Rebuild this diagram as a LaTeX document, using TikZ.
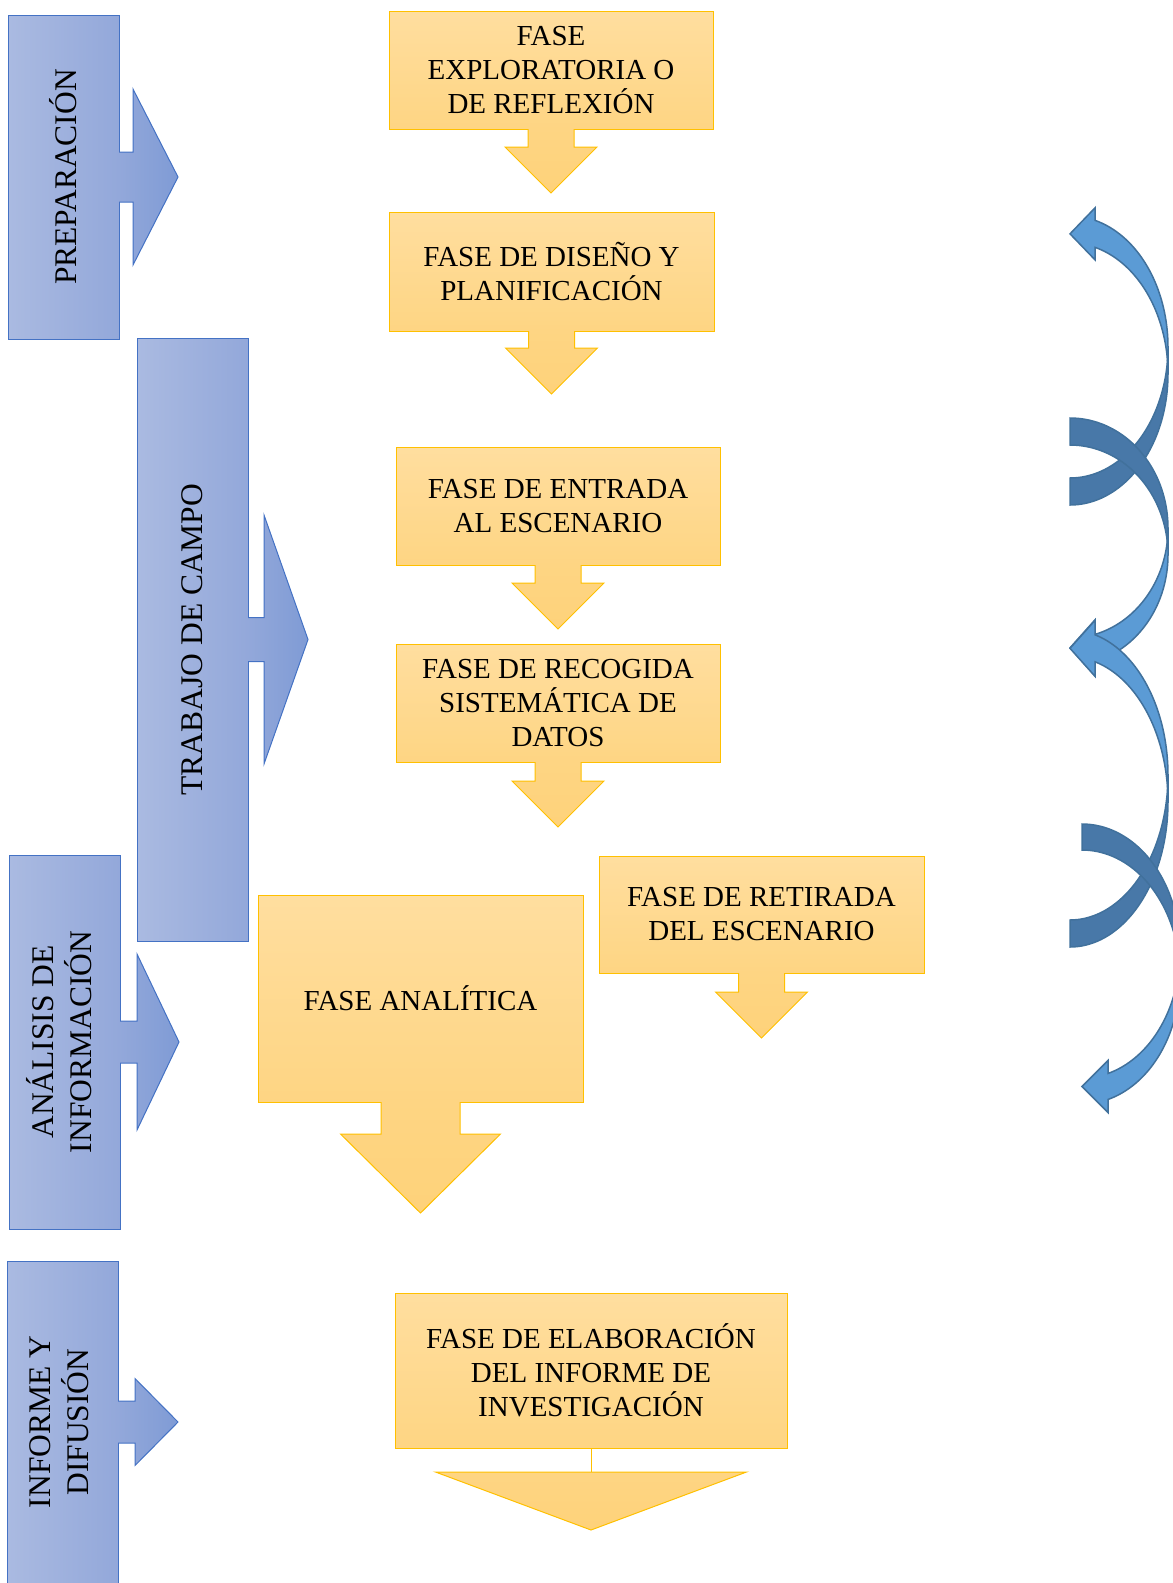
\documentclass[tikz,border=0pt]{standalone}
\usepackage{fontspec}
\setmainfont{Liberation Serif}
\usepackage{graphicx}
\definecolor{orline}{HTML}{FFC000}
\definecolor{ortop}{HTML}{FFDE9F}
\definecolor{orbot}{HTML}{FED583}
\definecolor{orarrow}{HTML}{FED27A}
\definecolor{blline}{HTML}{4472C4}
\definecolor{blleft}{HTML}{AABAE1}
\definecolor{blmid}{HTML}{93A8DA}
\definecolor{bltip}{HTML}{7F9BD5}
\definecolor{cvlight}{HTML}{5B9BD5}
\definecolor{cvdark}{HTML}{4878A8}
\definecolor{cvline}{HTML}{41719C}
\tikzset{
  fase/.style={draw=orline, line width=1pt, top color=ortop, bottom color=orbot,
    minimum width=324pt, minimum height=118pt, align=center, inner sep=0pt,
    outer sep=0pt, font=\fontsize{29}{34}\selectfont},
  etapa/.style={draw=blline, line width=1pt, left color=blleft, right color=blmid,
    minimum width=111pt, inner sep=0pt, outer sep=0pt,
    font=\fontsize{31.5}{36}\selectfont}
}
\begin{document}
\begin{tikzpicture}[x=1pt,y=-1pt]
            \useasboundingbox (0,0) rectangle (1173,1583);
            \newcommand{\flecha}[5]{
              \shade[top color=orbot, bottom color=orarrow] ([xshift=-#2pt,yshift=0.6pt]#1.south) -- ++(0,#3+0.6) -- ++(#2-#4,0)
              -- ++(#4,#5) -- ++(#4,-#5) -- ++(#2-#4,0) -- ++(0,-#3-0.6) -- cycle;
              \draw[orline, line width=1pt] ([xshift=-#2pt]#1.south) -- ++(0,#3) -- ++(#2-#4,0)
              -- ++(#4,#5) -- ++(#4,-#5) -- ++(#2-#4,0) -- ++(0,-#3);
            }
            \newcommand{\flechader}[5]{
              \shade[left color=blmid, right color=bltip] ([xshift=-0.6pt,yshift=#2pt]#1.east) -- ++(#3+0.6,0) -- ++(0,#2-#4)
              -- ++(#5,#4) -- ++(-#5,#4) -- ++(0,#2-#4) -- ++(-#3-0.6,0) -- cycle;
              \draw[blline, line width=1pt] ([yshift=#2pt]#1.east) -- ++(#3,0) -- ++(0,#2-#4)
              -- ++(#5,#4) -- ++(-#5,#4) -- ++(0,#2-#4) -- ++(-#3,0);
            }
            \newcommand{\curva}[8]{
              \pgfmathsetmacro{\cvt}{acos(#7/#3)}
              \pgfmathsetmacro{\cvy}{#4+#4*sin(\cvt)+#5/2}
              \begin{scope}[shift={(#1,#2)}, yscale=#8]
                \filldraw[fill=cvdark, draw=cvline, line width=1.5pt]
                plot[domain=-90:0, samples=40] ({#3*cos(\x)},{#4+#4*sin(\x)})
                -- plot[domain=0:-90, samples=40] ({#3*cos(\x)},{#4+#5+#4*sin(\x)}) -- cycle;
                \filldraw[fill=cvlight, draw=cvline, line width=1.5pt]
                plot[domain=0:\cvt, samples=40] ({#3*cos(\x)},{#4+#4*sin(\x)})
                -- (#7,\cvy-#6/2) -- (0,\cvy) -- (#7,\cvy+#6/2)
                -- plot[domain=\cvt:0, samples=40] ({#3*cos(\x)},{#4+#5+#4*sin(\x)}) -- cycle;
              \end{scope}
            }
            \node[etapa, minimum height=324pt] (prep) at (63.5,177) {\rotatebox{90}{PREPARACIÓN}};
            \node[etapa, minimum height=603pt] (trab) at (192.5,639.5) {\rotatebox{90}{TRABAJO DE CAMPO}};
            \node[etapa, minimum height=374pt] (anal) at (64.5,1042) {\rotatebox{90}{\begin{tabular}{@{}c@{}}ANÁLISIS DE\\INFORMACIÓN\end{tabular}}};
            \node[etapa, minimum height=322pt] (inf) at (62.5,1422) {\rotatebox{90}{\begin{tabular}{@{}c@{}}INFORME Y\\DIFUSIÓN\end{tabular}}};
            \flechader{prep}{25}{14}{88}{45}
            \flechader{trab}{22}{16}{124.5}{44}
            \flechader{anal}{21}{17}{88}{42}
            \flechader{inf}{21}{17}{43.5}{43}
            \node[fase] (f1) at (551,70) {FASE\\EXPLORATORIA O\\DE REFLEXIÓN};
            \node[fase, minimum width=325pt, minimum height=119pt] (f2) at (551.5,271.5) {FASE DE DISEÑO Y\\PLANIFICACIÓN};
            \node[fase] (f3) at (558,506) {FASE DE ENTRADA\\AL ESCENARIO};
            \node[fase] (f4) at (558,703) {FASE DE RECOGIDA\\SISTEMÁTICA DE\\DATOS};
            \node[fase, minimum width=325pt, minimum height=117pt] (f5) at (761.5,914.5) {FASE DE RETIRADA\\DEL ESCENARIO};
            \node[fase, minimum width=325pt, minimum height=207pt] (f6) at (420.5,998.5) {FASE ANALÍTICA};
            \node[fase, minimum width=392pt, minimum height=155pt] (f7) at (591,1370.5) {FASE DE ELABORACIÓN\\DEL INFORME DE\\INVESTIGACIÓN};
            \flecha{f1}{23}{18}{46}{46}
            \flecha{f2}{23}{17}{46}{46}
            \flecha{f3}{23}{18}{46}{46}
            \flecha{f4}{23}{19}{46}{46}
            \flecha{f5}{23}{19}{46}{46}
            \flecha{f6}{39.5}{32}{80}{79}
            \draw[orline, line width=1pt] (f7.south) -- ++(0,24) coordinate (f7t);
            \shadedraw[top color=orbot, bottom color=orarrow, draw=orline, line width=1pt]
            ([xshift=-155.5pt]f7t) -- ([xshift=155.5pt]f7t) -- ([yshift=-58pt]f7t) -- cycle;
            \curva{1070}{505}{98}{131}{27}{52}{25}{-1}
            \curva{1070}{418}{98}{110}{27}{56}{25}{1}
            \curva{1070}{947}{98}{145}{27}{56}{25}{-1}
            \curva{1082}{824}{98}{127}{26}{52}{26}{1}
\end{tikzpicture}
\end{document}
